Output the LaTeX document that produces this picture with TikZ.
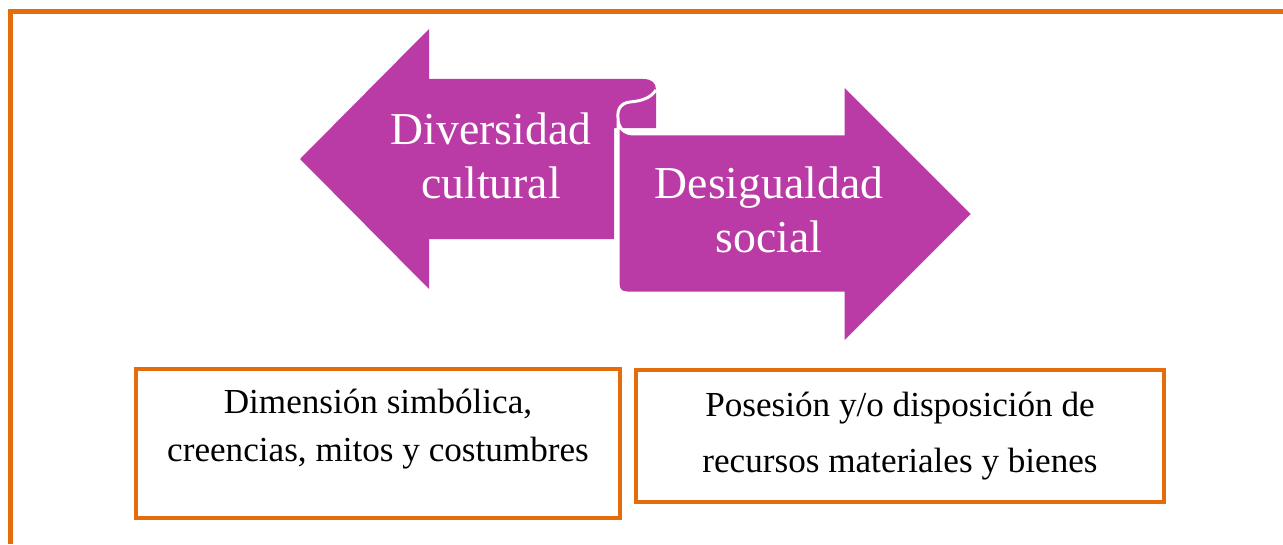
\documentclass[tikz,border=0pt]{standalone}
\usepackage{fontspec}
\setmainfont{Liberation Serif}
\definecolor{naranja}{RGB}{228,108,10}
\definecolor{morado}{RGB}{186,58,166}
\tikzset{
  caja/.style={draw=naranja,line width=2.6pt,minimum width=9.68cm,minimum height=2.98cm},
  textocaja/.style={align=center,font=\fontsize{20}{27}\selectfont},
  textoflecha/.style={align=center,text=white,font=\fontsize{26}{31}\selectfont},
}
\begin{document}
\begin{tikzpicture}[x=0.02cm,y=-0.02cm]
    \useasboundingbox (0,0) rectangle (1283,544);
    \draw[naranja,line width=2.9pt] (10.7,544) -- (10.7,11.5) -- (1283,11.5);
    % flecha izquierda
    \fill[morado] (300,159) -- (429,29) -- (429,79) -- (643,79) .. controls (652,79) and (656,83) .. (656,90) -- (656,128) -- (614,128) -- (614,239) -- (429,239) -- (429,289) -- cycle;
    % flecha derecha
    \filldraw[fill=morado,draw=white,line width=1.7pt] (618,118) -- (618,284) .. controls (618,290) and (621,293) .. (627,293) -- (843,293) -- (843,344) -- (973,214) -- (843,84) -- (843,134) -- (634,134) .. controls (624,134) and (618,128) .. (618,118) -- cycle;
    % rizo
    \draw[white,line width=1.7pt] (656,90) .. controls (650,99) and (640,101) .. (630,102) .. controls (621,103) and (617,109) .. (618,118);
    \node[textoflecha] (diversidad) at (491,156) {Diversidad\\cultural};
    \node[textoflecha] (desigualdad) at (769,210) {Desigualdad\\social};
    \node[caja] (simbolica) at (378,443.5) {};
    \node[textocaja] (simbolicatxt) at (378,429) {Dimensión simbólica,\\creencias, mitos y costumbres};
    \node[caja,textocaja,font=\fontsize{20}{32}\selectfont,minimum width=10.56cm,minimum height=2.64cm] (recursos) at (900,436) {Posesión y/o disposición de\\recursos materiales y bienes};
\end{tikzpicture}
\end{document}
